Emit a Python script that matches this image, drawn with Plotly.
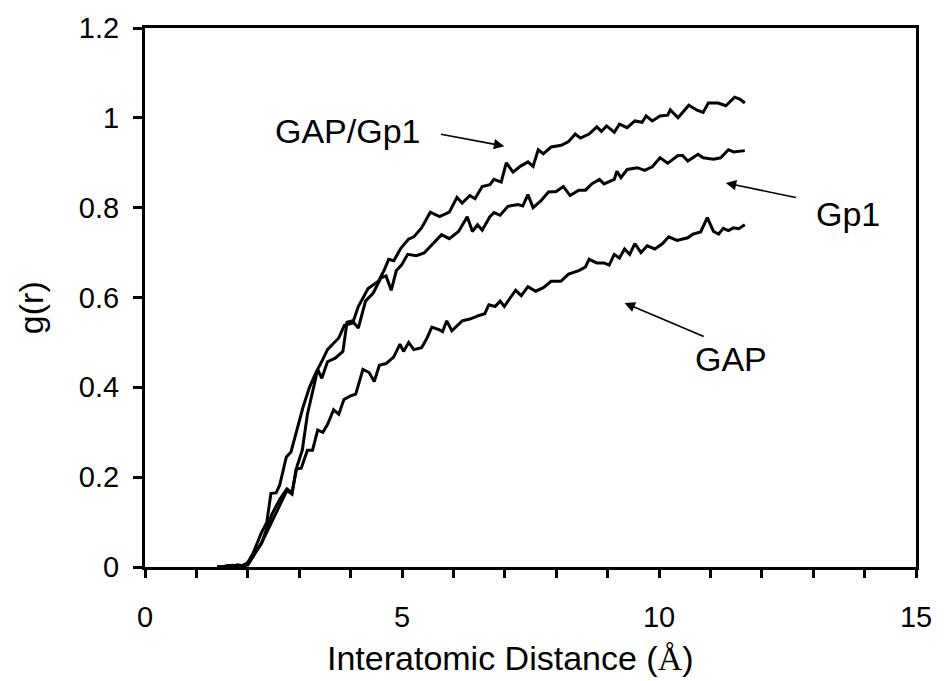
import plotly.graph_objects as go

# ---- data ----
gapgp1_x = [1.4, 1.5, 1.6, 1.7, 1.8, 1.9, 2.0, 2.1, 2.26, 2.37, 2.45, 2.55, 2.62, 2.75, 2.84, 2.97,
            3.08, 3.2, 3.33, 3.45, 3.55, 3.66, 3.77, 3.88, 4.04, 4.15, 4.34, 4.54, 4.65, 4.74, 4.84,
            4.98, 5.13, 5.23, 5.38, 5.55, 5.73, 5.92, 6.07, 6.17, 6.32, 6.42, 6.56, 6.71, 6.79, 6.93,
            7.03, 7.16, 7.3, 7.45, 7.55, 7.65, 7.75, 7.9, 8.1, 8.24, 8.37, 8.47, 8.64, 8.79, 8.88,
            8.98, 9.13, 9.23, 9.38, 9.53, 9.67, 9.75, 9.87, 10.02, 10.17, 10.22, 10.37, 10.58, 10.74,
            10.86, 10.96, 11.15, 11.3, 11.47, 11.57, 11.67]
gapgp1_y = [0, 0, 0.003, 0.002, 0.005, 0.003, 0.01, 0.03, 0.075, 0.1, 0.164, 0.165, 0.182, 0.245,
            0.256, 0.312, 0.358, 0.4, 0.434, 0.46, 0.484, 0.497, 0.51, 0.538, 0.543, 0.58, 0.62,
            0.636, 0.66, 0.685, 0.682, 0.71, 0.73, 0.735, 0.755, 0.79, 0.78, 0.79, 0.823, 0.81,
            0.827, 0.82, 0.847, 0.851, 0.863, 0.857, 0.9, 0.879, 0.892, 0.902, 0.892, 0.929, 0.92,
            0.935, 0.939, 0.947, 0.964, 0.955, 0.964, 0.98, 0.97, 0.982, 0.968, 0.986, 0.978, 0.993,
            0.99, 1.004, 0.993, 1.004, 1.006, 1.018, 1.0, 1.028, 1.017, 1.012, 1.033, 1.033, 1.027,
            1.046, 1.042, 1.033]

gp1_x = [1.4, 1.5, 1.6, 1.7, 1.8, 1.9, 2.0, 2.27, 2.47, 2.62, 2.76, 2.86, 2.96, 3.06, 3.16, 3.26,
         3.36, 3.44, 3.55, 3.7, 3.85, 3.93, 4.03, 4.15, 4.29, 4.44, 4.59, 4.69, 4.79, 4.89, 4.99,
         5.11, 5.28, 5.43, 5.58, 5.77, 5.92, 6.1, 6.27, 6.37, 6.47, 6.56, 6.71, 6.79, 6.91, 7.06,
         7.26, 7.35, 7.45, 7.55, 7.7, 7.85, 8.0, 8.14, 8.27, 8.44, 8.57, 8.69, 8.84, 8.93, 9.13,
         9.18, 9.26, 9.38, 9.58, 9.72, 9.87, 10.02, 10.17, 10.37, 10.46, 10.56, 10.76, 10.86,
         11.06, 11.2, 11.35, 11.45, 11.67]
gp1_y = [0, 0, 0.002, 0.003, 0.002, 0.003, 0.005, 0.054, 0.118, 0.15, 0.174, 0.166, 0.225, 0.26,
         0.34, 0.39, 0.44, 0.42, 0.457, 0.465, 0.48, 0.545, 0.548, 0.532, 0.592, 0.61, 0.644,
         0.648, 0.616, 0.66, 0.672, 0.696, 0.693, 0.699, 0.717, 0.74, 0.731, 0.747, 0.78, 0.747,
         0.762, 0.75, 0.78, 0.789, 0.783, 0.803, 0.807, 0.804, 0.829, 0.8, 0.815, 0.835, 0.836,
         0.847, 0.827, 0.839, 0.839, 0.853, 0.863, 0.853, 0.863, 0.881, 0.867, 0.885, 0.889,
         0.883, 0.891, 0.911, 0.899, 0.916, 0.916, 0.904, 0.919, 0.911, 0.908, 0.911, 0.929,
         0.924, 0.927]

gap_x = [1.4, 1.5, 1.6, 1.7, 1.8, 1.9, 2.0, 2.27, 2.47, 2.62, 2.76, 2.86, 2.94, 3.04, 3.16, 3.26,
         3.36, 3.46, 3.55, 3.67, 3.77, 3.87, 4.0, 4.1, 4.24, 4.36, 4.46, 4.56, 4.69, 4.84, 4.96,
         5.03, 5.13, 5.23, 5.38, 5.48, 5.58, 5.73, 5.79, 5.87, 5.97, 6.17, 6.32, 6.5, 6.61, 6.69,
         6.81, 6.91, 6.99, 7.11, 7.21, 7.32, 7.45, 7.6, 7.75, 7.9, 8.09, 8.24, 8.34, 8.44, 8.57,
         8.64, 8.79, 8.93, 9.03, 9.13, 9.23, 9.33, 9.43, 9.53, 9.65, 9.77, 9.92, 10.07, 10.19,
         10.35, 10.56, 10.66, 10.81, 10.94, 11.06, 11.16, 11.25, 11.35, 11.45, 11.55, 11.67]
gap_y = [0, 0, 0.002, 0.004, 0.002, 0.004, 0.005, 0.054, 0.102, 0.138, 0.17, 0.162, 0.218, 0.22,
         0.26, 0.26, 0.305, 0.3, 0.317, 0.35, 0.34, 0.373, 0.381, 0.385, 0.44, 0.433, 0.413,
         0.449, 0.453, 0.468, 0.496, 0.48, 0.5, 0.484, 0.488, 0.508, 0.534, 0.528, 0.524, 0.548,
         0.526, 0.548, 0.552, 0.56, 0.564, 0.584, 0.58, 0.592, 0.58, 0.6, 0.616, 0.604, 0.624,
         0.614, 0.622, 0.636, 0.636, 0.652, 0.656, 0.66, 0.668, 0.685, 0.677, 0.677, 0.672, 0.696,
         0.688, 0.708, 0.696, 0.72, 0.7, 0.715, 0.708, 0.72, 0.735, 0.727, 0.733, 0.741, 0.746,
         0.778, 0.747, 0.741, 0.754, 0.749, 0.755, 0.753, 0.762]

labels = ["GAP/Gp1", "Gp1", "GAP"]
label_pos = [(3.95, 0.97), (13.67, 0.785), (11.4, 0.464)]
arrow_tail = [(5.73, 0.964), (12.69, 0.822), (10.9, 0.512)]
arrow_head = [(6.99, 0.937), (11.3, 0.855), (9.33, 0.588)]

x_ticks = [0, 5, 10, 15]
y_ticks = [0, 0.2, 0.4, 0.6, 0.8, 1.0, 1.2]
y_ticktext = ["0", "0.2", "0.4", "0.6", "0.8", "1", "1.2"]

x_title = 'Interatomic Distance (<span style="font-family:Liberation Serif, Times New Roman, serif">Å</span>)'
y_title = "g(r)"

FONT = "Liberation Sans, Arial, sans-serif"

fig = go.Figure()
for xs, ys, name in [(gapgp1_x, gapgp1_y, "GAP/Gp1"), (gp1_x, gp1_y, "Gp1"), (gap_x, gap_y, "GAP")]:
    fig.add_trace(go.Scatter(x=xs, y=ys, mode="lines", name=name,
                             line=dict(color="black", width=3), showlegend=False))

for text, (tx, ty) in zip(labels, label_pos):
    fig.add_annotation(x=tx, y=ty, xref="x", yref="y", text=text, showarrow=False,
                       font=dict(family=FONT, size=34, color="black"))
for (hx, hy), (tx, ty) in zip(arrow_head, arrow_tail):
    fig.add_annotation(x=hx, y=hy, ax=tx, ay=ty, xref="x", yref="y", axref="x", ayref="y",
                       text="", showarrow=True, arrowhead=2, arrowsize=1.3, arrowwidth=1.6,
                       arrowcolor="black", standoff=0, startstandoff=0)

# axis titles (placed as paper annotations to match the reference's offsets)
fig.add_annotation(x=0.474, y=-0.168, xref="paper", yref="paper", text=x_title,
                   showarrow=False, xanchor="center", yanchor="middle", borderpad=0,
                   font=dict(family=FONT, size=34, color="black"))
fig.add_annotation(x=-0.1486, y=0.481, xref="paper", yref="paper", text=y_title,
                   showarrow=False, xanchor="center", yanchor="middle", textangle=-90,
                   font=dict(family=FONT, size=34, color="black"))

fig.update_layout(
    width=944, height=681,
    margin=dict(l=145, r=25, t=27, b=114),
    paper_bgcolor="white", plot_bgcolor="white",
    font=dict(family=FONT, color="black"),
)
fig.update_xaxes(
    range=[0, 15], tickvals=x_ticks, ticks="outside", ticklen=8, tickwidth=2.5,
    tickcolor="black", showline=True, linecolor="black", linewidth=3, mirror=True,
    showgrid=False, zeroline=False, tickfont=dict(family=FONT, size=29),
    ticklabelstandoff=14,
    minor=dict(dtick=1, tick0=0, ticks="outside", ticklen=8, tickwidth=2.5, tickcolor="black", showgrid=False),
)
fig.update_yaxes(
    range=[0, 1.2], tickvals=y_ticks, ticktext=y_ticktext,
    ticks="outside", ticklen=9, tickwidth=2.5,
    tickcolor="black", showline=True, linecolor="black", linewidth=3, mirror=True,
    showgrid=False, zeroline=False, tickfont=dict(family=FONT, size=29),
    ticklabelstandoff=8,
)

fig.write_html("out.html")
